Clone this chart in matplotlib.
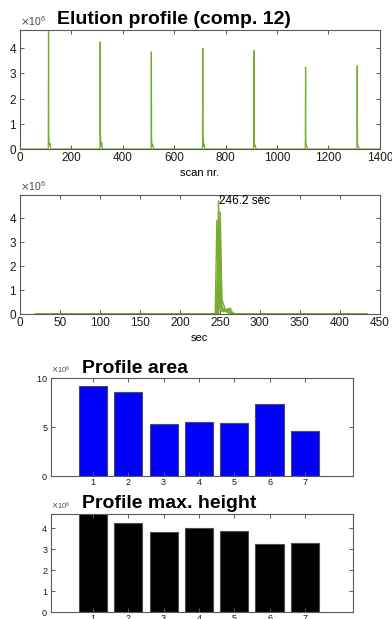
import numpy as np
import matplotlib.pyplot as plt
from matplotlib.ticker import ScalarFormatter

# elution profiles of component 12, one run per sample (200 scans each)
n_scans = 200
scan_t0 = 19.5       # sec of first scan
scan_dt = 2.08       # sec per scan
apex_index = [110, 111, 110, 110, 109, 110, 111]
# values (x1e6) starting one scan before the apex
peak_segments = [
    [0.05, 4.72, 0.55, 0.30, 0.18, 0.15, 0.20, 0.22, 0.08, 0.03],
    [0.03, 4.25, 0.60, 0.40, 0.20, 0.12, 0.15, 0.25, 0.10, 0.04],
    [0.04, 3.85, 0.45, 0.25, 0.15, 0.12, 0.18, 0.12, 0.05, 0.02],
    [0.02, 4.00, 0.50, 0.30, 0.16, 0.10, 0.12, 0.20, 0.06, 0.02],
    [0.03, 3.90, 0.40, 0.22, 0.12, 0.10, 0.15, 0.10, 0.04, 0.01],
    [0.02, 3.25, 0.35, 0.20, 0.15, 0.12, 0.10, 0.08, 0.03, 0.01],
    [0.03, 3.30, 0.30, 0.18, 0.12, 0.10, 0.08, 0.05, 0.02, 0.01],
]
apex_label = "246.2 sec"

samples = [1, 2, 3, 4, 5, 6, 7]
profile_area = [9.2e6, 8.55e6, 5.28e6, 5.48e6, 5.41e6, 7.34e6, 4.52e6]

green = "#77AC30"
axcol = "0.35"
plt.rcParams["font.family"] = ["Liberation Sans", "DejaVu Sans"]


def build_profiles():
    profiles = []
    for idx, seg in zip(apex_index, peak_segments):
        p = np.zeros(n_scans)
        p[idx - 1: idx - 1 + len(seg)] = np.array(seg) * 1e6
        profiles.append(p)
    return profiles


def style_axes(ax, labelsize=8.5):
    for s in ax.spines.values():
        s.set_color(axcol)
        s.set_linewidth(0.8)
    ax.tick_params(direction="in", top=True, right=True, length=3,
                   width=0.7, color=axcol, labelsize=labelsize, pad=2,
                   labelcolor="0.1")
    fmt = ScalarFormatter(useMathText=True)
    fmt.set_powerlimits((6, 6))
    ax.yaxis.set_major_formatter(fmt)
    ax.yaxis.get_offset_text().set_fontsize(labelsize - 1)
    ax.yaxis.get_offset_text().set_color("0.3")


profiles = build_profiles()
max_height = [p.max() for p in profiles]
scan_time = scan_t0 + scan_dt * np.arange(n_scans)

fig = plt.figure(figsize=(3.92, 6.19), dpi=100)

# concatenated profile vs scan number
ax1 = fig.add_axes([0.051, 0.7593, 0.918, 0.1922])
concat = np.concatenate(profiles)
ax1.plot(np.arange(1, len(concat) + 1), concat, color=green, lw=0.9)
ax1.set_xlim(0, 1400)
ax1.set_ylim(0, max(max_height))
ax1.set_xticks(range(0, 1401, 200))
ax1.set_yticks(np.arange(0, 4.5e6, 1e6))
ax1.set_xlabel("scan nr.", fontsize=8, labelpad=3)
style_axes(ax1)
ax1.text(0.103, 1.09, "Elution profile (comp. 12)", transform=ax1.transAxes,
         fontsize=14, fontweight="bold", ha="left", va="center")

# overlaid profiles vs time
ax2 = fig.add_axes([0.051, 0.4927, 0.918, 0.1923])
for p in profiles:
    ax2.plot(scan_time, p, color=green, lw=1.0)
best = int(np.argmax(max_height))
ax2.text(scan_time[apex_index[best]], max_height[best], apex_label,
         fontsize=8.5, ha="left", va="center")
ax2.set_xlim(0, 450)
ax2.set_ylim(0, 4.95e6)
ax2.set_xticks(range(0, 451, 50))
ax2.set_yticks(np.arange(0, 4.5e6, 1e6))
ax2.set_xlabel("sec", fontsize=8, labelpad=3)
style_axes(ax2)

# profile area
ax3 = fig.add_axes([0.130, 0.2318, 0.7704, 0.1575])
ax3.bar(samples, profile_area, width=0.8, color="#0000FF",
        edgecolor="0.3", linewidth=0.8)
ax3.set_xlim(-0.19, 8.36)
ax3.set_ylim(0, 10e6)
ax3.set_xticks(samples)
ax3.set_yticks([0, 5e6, 10e6])
style_axes(ax3, labelsize=6.5)
ax3.text(0.1017, 1.1, "Profile area", transform=ax3.transAxes,
         fontsize=14, fontweight="bold", ha="left", va="center")

# profile max height
ax4 = fig.add_axes([0.130, 0.0118, 0.7704, 0.1586])
ax4.bar(samples, max_height, width=0.8, color="black",
        edgecolor="0.3", linewidth=0.8)
ax4.set_xlim(-0.19, 8.36)
ax4.set_ylim(0, max(max_height))
ax4.set_xticks(samples)
ax4.set_yticks(np.arange(0, 4.5e6, 1e6))
style_axes(ax4, labelsize=6.5)
ax4.text(0.1017, 1.1, "Profile max. height", transform=ax4.transAxes,
         fontsize=14, fontweight="bold", ha="left", va="center")

fig.savefig("out.png", dpi=100)
